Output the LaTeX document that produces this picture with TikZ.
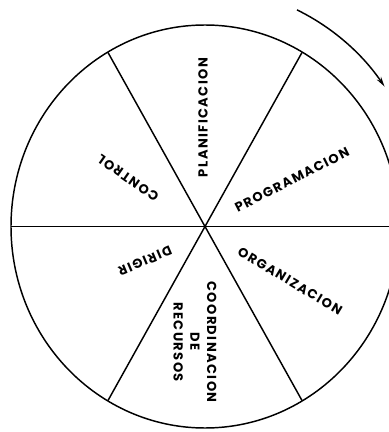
\documentclass[tikz,border=0pt]{standalone}
\usepackage{fontspec}
\setmainfont{Poppins}
\newfontfamily\etiqfont[LetterSpace=11]{Poppins}
\usetikzlibrary{arrows.meta}

\begin{document}
\begin{tikzpicture}[x=0.75pt,y=0.75pt,line width=1.1pt,
    etiq/.style={font=\etiqfont\bfseries\fontsize{9.8}{12.5}\selectfont,inner sep=0pt,align=center}]
  \useasboundingbox (-205,-205.5) rectangle (184,226.5);
  \clip (-205,-205.5) rectangle (184,226.5);
  \coordinate (O)  at (0,0);
  \coordinate (E)  at (194,0);
  \coordinate (W)  at (-194,0);
  \coordinate (NE) at (97,174);
  \coordinate (NW) at (-97,174);
  \coordinate (SE) at (97,-174);
  \coordinate (SW) at (-97,-174);
  \coordinate (Ai) at (92.0,216.6);

  \draw (O) ellipse [x radius=194, y radius=201.5];
  \draw (W) -- (E);
  \draw (NW) -- (SE);
  \draw (NE) -- (SW);
  \draw[-{Stealth[length=7.5pt,width=3.8pt]}] (Ai)
    arc [start angle=65.5, end angle=36, x radius=222, y radius=238];

  \node[etiq,rotate=90]  (plan)  at (-2,109)     {PLANIFICACION};
  \node[etiq,rotate=27]  (prog)  at (87,46.5)    {PROGRAMACION};
  \node[etiq,rotate=-31] (org)   at (85,-54.5)   {ORGANIZACION};
  \node[etiq,rotate=-90] (coord) at (-10,-115.5) {COORDINACION\\DE\\RECURSOS};
  \node[etiq,rotate=203] (dir)   at (-60,-34.5)  {DIRIGIR};
  \node[etiq,rotate=145] (ctrl)  at (-77,48.5)   {CONTROL};
\end{tikzpicture}
\end{document}
